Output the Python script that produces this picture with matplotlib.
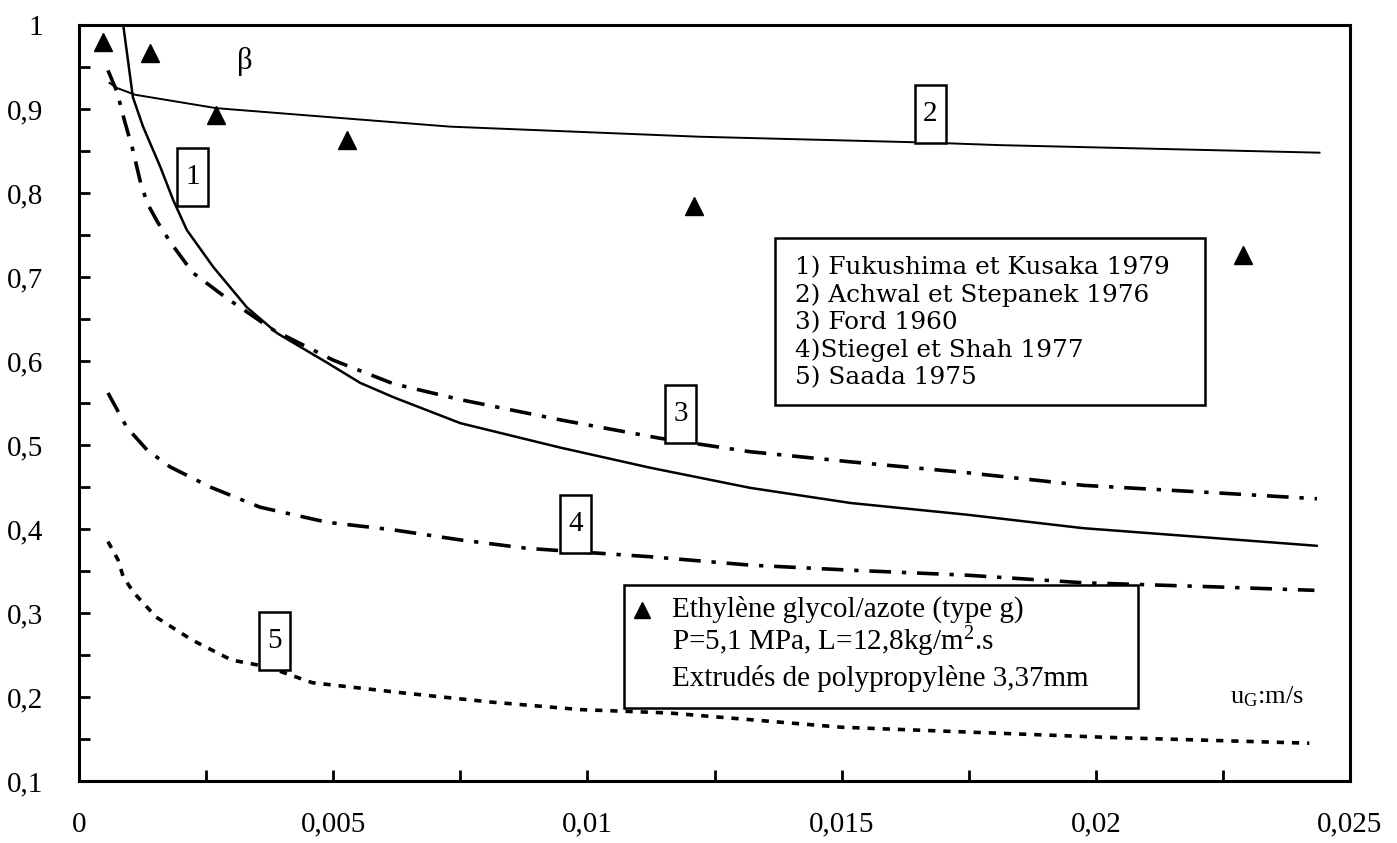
import matplotlib
matplotlib.use("Agg")
import matplotlib.pyplot as plt
from matplotlib.patches import Rectangle

# ---------------- data ----------------
x_ticks = [0, 0.005, 0.01, 0.015, 0.02, 0.025]
x_ticklabels = ["0", "0,005", "0,01", "0,015", "0,02", "0,025"]
y_ticks = [0.1, 0.2, 0.3, 0.4, 0.5, 0.6, 0.7, 0.8, 0.9, 1.0]
y_ticklabels = ["0,1", "0,2", "0,3", "0,4", "0,5", "0,6", "0,7", "0,8", "0,9", "1"]

# 1) Fukushima et Kusaka 1979 (solid)
c1_x = [0.00087, 0.00106, 0.00126, 0.0016, 0.00185, 0.00212, 0.00264, 0.0033, 0.0039,
        0.00488, 0.00553, 0.00618, 0.0075, 0.00946, 0.01123, 0.0132, 0.01517, 0.01747,
        0.01975, 0.02238, 0.02435]
c1_y = [1.0, 0.914, 0.879, 0.831, 0.792, 0.756, 0.712, 0.664, 0.633,
        0.598, 0.574, 0.557, 0.526, 0.497, 0.473, 0.449, 0.431, 0.417,
        0.401, 0.389, 0.380]

# 2) Achwal et Stepanek 1976 (thin wavy)
c2_x = [0.0006, 0.00075, 0.0011, 0.0027, 0.0052, 0.0073, 0.0122, 0.0167, 0.0181, 0.0244]
c2_y = [0.931, 0.925, 0.917, 0.901, 0.889, 0.879, 0.867, 0.860, 0.857, 0.848]

# 3) Ford 1960 (dash-dot)
c3_x = [0.00057, 0.00075, 0.0009, 0.00106, 0.0012, 0.00134, 0.00155, 0.00179, 0.00224,
        0.0029, 0.00382, 0.005, 0.00618, 0.0075, 0.00946, 0.01143, 0.0132, 0.01517,
        0.01747, 0.01975, 0.02238, 0.02435]
c3_y = [0.946, 0.92, 0.885, 0.851, 0.815, 0.788, 0.765, 0.742, 0.705,
        0.675, 0.637, 0.601, 0.573, 0.554, 0.530, 0.508, 0.492, 0.480,
        0.467, 0.452, 0.443, 0.436]

# 4) Stiegel et Shah 1977 (dash-dot)
c4_x = [0.00057, 0.00094, 0.00134, 0.00179, 0.00258, 0.00356, 0.00488, 0.00618, 0.0075,
        0.00881, 0.01123, 0.0132, 0.01517, 0.01747, 0.01975, 0.0224, 0.0243]
c4_y = [0.562, 0.521, 0.494, 0.474, 0.450, 0.426, 0.408, 0.399, 0.387,
        0.377, 0.367, 0.357, 0.351, 0.345, 0.336, 0.331, 0.327]

# 5) Saada 1975 (short dashes)
c5_x = [0.00057, 0.00077, 0.00087, 0.00108, 0.00152, 0.00222, 0.003, 0.0037, 0.00459,
        0.00635, 0.0081, 0.00986, 0.0116, 0.015, 0.0202, 0.0242]
c5_y = [0.385, 0.363, 0.343, 0.324, 0.295, 0.268, 0.244, 0.236, 0.217,
        0.205, 0.194, 0.185, 0.181, 0.164, 0.152, 0.145]

# experimental points (triangles)
pts_x = [0.00047, 0.0014, 0.0027, 0.00527, 0.0121, 0.0229]
pts_y = [0.980, 0.967, 0.893, 0.863, 0.785, 0.726]

legend1_lines = ["1) Fukushima et Kusaka 1979", "2) Achwal et Stepanek 1976",
                 "3) Ford 1960", "4)Stiegel et Shah 1977", "5) Saada 1975"]
legend2_lines = ["Ethylène glycol/azote (type g)",
                 r"P=5,1 MPa, L=12,8kg/m$^{2}$.s",
                 "Extrudés de polypropylène 3,37mm"]
curve_labels = ["1", "2", "3", "4", "5"]

# ---------------- figure ----------------
plt.rcParams["font.family"] = ["Liberation Serif", "DejaVu Serif"]
plt.rcParams["mathtext.fontset"] = "custom"
plt.rcParams["mathtext.rm"] = "Liberation Serif"
plt.rcParams["mathtext.it"] = "Liberation Serif"

W, H = 1397, 843
L, R, T, B = 79, 1350, 25, 781
fig = plt.figure(figsize=(W / 100, H / 100), dpi=100)
ax = fig.add_axes([L / W, 1 - B / H, (R - L) / W, (B - T) / H])
TA = ax.transAxes


def fx(px):
    return (px - L) / (R - L)


def fy(py):
    return (B - py) / (B - T)


ax.set_xlim(0, 0.025)
ax.set_ylim(0.1, 1.0)

ax.plot(c1_x, c1_y, color="black", lw=1.8, solid_capstyle="round")
ax.plot(c2_x, c2_y, color="black", lw=1.4)
ax.plot(c3_x, c3_y, color="black", lw=2.6, linestyle=(0, (6.0, 3.0, 1.2, 3.0)))
ax.plot(c4_x, c4_y, color="black", lw=2.6, linestyle=(0, (6.0, 3.0, 1.2, 3.0)))
ax.plot(c5_x, c5_y, color="black", lw=2.6, linestyle=(0, (2.0, 2.2)))
ax.plot(pts_x, pts_y, linestyle="none", marker="^", color="black", ms=13, clip_on=False)

# ticks
ax.set_xticks(x_ticks)
ax.set_xticklabels(x_ticklabels)
ax.set_yticks(y_ticks)
ax.set_yticklabels(y_ticklabels)
ax.set_xticks([0.0025 + 0.005 * i for i in range(5)], minor=True)
ax.set_yticks([0.15 + 0.1 * i for i in range(9)], minor=True)
ax.tick_params(axis="both", which="both", direction="in", length=8, width=2.0,
               colors="black")
ax.tick_params(axis="x", which="major", pad=22, labelsize=21)
ax.tick_params(axis="y", which="major", pad=26, labelsize=21)
ax.tick_params(top=False, right=False, which="both")
for s in ax.spines.values():
    s.set_linewidth(2.2)

# beta and axis label
ax.text(fx(245), fy(62), "β", fontsize=22, ha="center", va="center", transform=TA)
ax.text(fx(1267), fy(697), r"$\mathrm{u_G}$:m/s", fontsize=19, ha="center",
        va="center", transform=TA)

# numbered boxes on curves (pixel layout)
boxes = [(177, 148), (915, 85), (665, 385), (560, 495), (259, 612)]
bw, bh = 31, 58
for lab, (bx, by) in zip(curve_labels, boxes):
    ax.add_patch(Rectangle((fx(bx), fy(by + bh)), bw / (R - L), bh / (B - T),
                           transform=TA, fc="white", ec="black", lw=1.8, zorder=5))
    ax.text(fx(bx + bw / 2), fy(by + bh / 2), lab, fontsize=21, ha="center",
            va="center", zorder=6, transform=TA)

# legend 1 box
ax.add_patch(Rectangle((fx(775), fy(405)), (1205 - 775) / (R - L), (405 - 238) / (B - T),
                       transform=TA, fc="white", ec="black", lw=1.8, zorder=5))
for i, line in enumerate(legend1_lines):
    ax.text(fx(795), fy(268 + 27.5 * i), line, fontsize=17.8, ha="left", va="center",
            family=["DejaVu Serif"], zorder=6, transform=TA)

# legend 2 box
ax.add_patch(Rectangle((fx(624), fy(708)), (1138 - 624) / (R - L), (708 - 585) / (B - T),
                       transform=TA, fc="white", ec="black", lw=1.8, zorder=5))
ax.plot([fx(642)], [fy(610)], marker="^", color="black", ms=11, transform=TA,
        zorder=6, clip_on=False)
for line, py in zip(legend2_lines, [609, 642, 679]):
    ax.text(fx(672), fy(py), line, fontsize=21, ha="left", va="center", zorder=6,
            transform=TA)

fig.savefig("out.png", dpi=100)
